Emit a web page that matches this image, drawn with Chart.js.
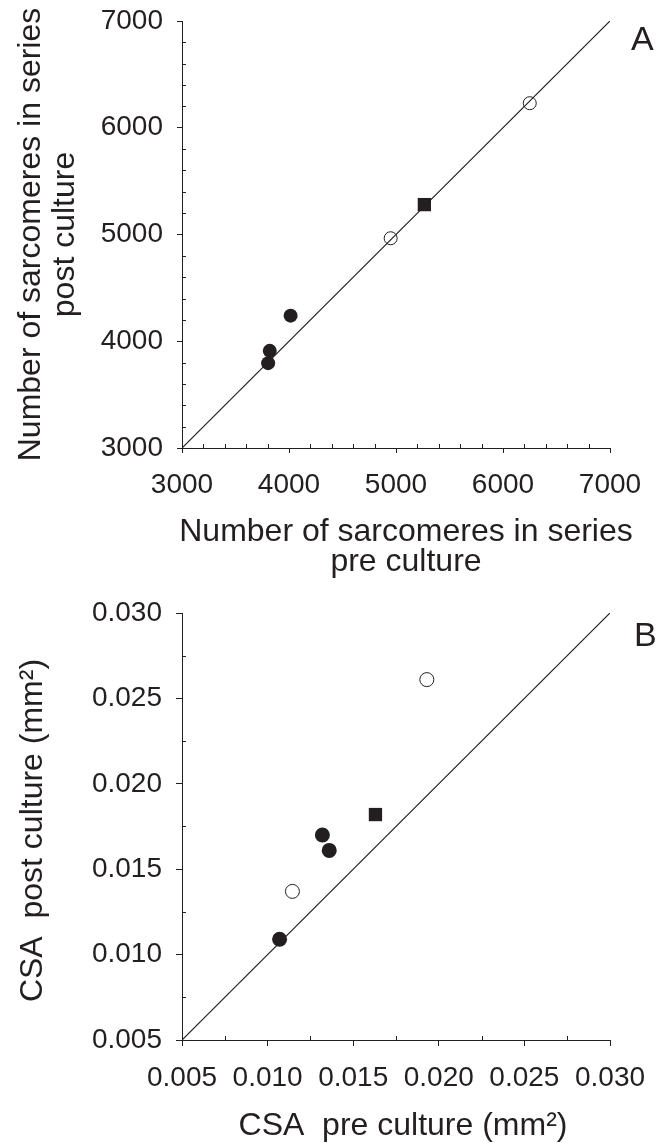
<!DOCTYPE html>
<html><head><meta charset="utf-8">
<script src="https://cdn.jsdelivr.net/npm/chart.js@4"></script>
<style>
html,body{margin:0;padding:0;background:#fff;}
#wrap{position:relative;width:659px;height:1143px;}
canvas{display:block;position:absolute;left:0;}
#a{top:0;}
#b{top:571px;}
</style></head>
<body>
<div id="wrap">
<canvas id="a" width="659" height="592"></canvas>
<canvas id="b" width="659" height="572"></canvas>
</div>
<script>
const INK = '#231f20';
const FONT = "'Liberation Sans', Arial, Helvetica, sans-serif";

// ---- Panel A: sarcomeres in series ----
const ticksA = [3000, 4000, 5000, 6000, 7000];
const minorStepA = 200;
const closedA_pre  = [3805, 3820, 4015];
const closedA_post = [3795, 3910, 4240];
const openA_pre    = [4950, 6250];
const openA_post   = [4965, 6230];
const squareA_pre  = [5265];
const squareA_post = [5280];
const identityA    = [3000, 7000];
const xTitleA = ['Number of sarcomeres in series', 'pre culture'];
const yTitleA = ['Number of sarcomeres in series', 'post culture'];

// ---- Panel B: CSA ----
const ticksB = [0.005, 0.010, 0.015, 0.020, 0.025, 0.030];
const minorStepB = 0.0025;
const closedB_pre  = [0.0107, 0.0132, 0.0136];
const closedB_post = [0.0109, 0.0170, 0.0161];
const openB_pre    = [0.01145, 0.0193];
const openB_post   = [0.0137, 0.0261];
const squareB_pre  = [0.0163];
const squareB_post = [0.0182];
const identityB    = [0.005, 0.030];
const xTitleB = ['CSA  pre culture (mm²)'];
const yTitleB = ['CSA  post culture (mm²)'];

function zip(xs, ys) { return xs.map((x, i) => ({x: x, y: ys[i]})); }

function minorPlugin(step, len) {
  return {
    id: 'minorTicks',
    afterDraw(chart) {
      const ctx = chart.ctx, ca = chart.chartArea;
      ctx.save();
      ctx.strokeStyle = INK; ctx.lineWidth = 1;
      ctx.beginPath();
      ['x', 'y'].forEach(k => {
        const s = chart.scales[k];
        const n = Math.round((s.max - s.min) / step);
        const majorEvery = Math.round((s.ticks[1].value - s.ticks[0].value) / step);
        for (let i = 1; i < n; i++) {
          if (i % majorEvery === 0) continue;
          const v = s.min + i * step;
          const p = Math.round(s.getPixelForValue(v)) + 0.5;
          if (k === 'x') { ctx.moveTo(p, ca.bottom); ctx.lineTo(p, ca.bottom - len); }
          else { ctx.moveTo(ca.left, p); ctx.lineTo(ca.left + len, p); }
        }
      });
      ctx.stroke();
      ctx.restore();
    }
  };
}

function textPlugin(c) {
  return {
    id: 'panelText',
    afterDraw(chart) {
      const ctx = chart.ctx, ca = chart.chartArea;
      ctx.save();
      ctx.fillStyle = INK;
      // panel letter
      ctx.font = '34px ' + FONT;
      ctx.textBaseline = 'alphabetic';
      ctx.textAlign = 'left';
      ctx.fillText(c.letter, c.lx, c.ly);
      // axis titles
      ctx.font = '32px ' + FONT;
      ctx.textAlign = 'center';
      const cx = (ca.left + ca.right) / 2 + c.xTitleShift;
      c.xTitle.forEach((t, i) => ctx.fillText(t, cx, c.xTitleBase[i]));
      const cy = (ca.top + ca.bottom) / 2 + c.yTitleShift;
      ctx.translate(0, cy);
      ctx.rotate(-Math.PI / 2);
      c.yTitle.forEach((t, i) => ctx.fillText(t, 0, c.yTitleBase[i]));
      ctx.restore();
    }
  };
}

function makeChart(id, c) {
  const axisCommon = (ticks, fmt) => ({
    type: 'linear',
    min: ticks[0], max: ticks[ticks.length - 1],
    afterBuildTicks: s => { s.ticks = ticks.map(v => ({value: v})); },
    ticks: { font: {size: 28, family: FONT}, color: INK, callback: fmt, autoSkip: false, maxRotation: 0 },
    grid: { drawOnChartArea: false, drawTicks: true, tickLength: c.tickLen, color: INK, lineWidth: 1 },
    border: { color: INK, width: 1 },
    title: { display: false }
  });
  const xAxis = axisCommon(c.ticks, c.fmt);
  xAxis.ticks.padding = 15;
  xAxis.afterFit = s => { s.height = c.xh; s.paddingLeft = 0; s.paddingRight = 0; };
  const yAxis = axisCommon(c.ticks, c.fmt);
  yAxis.ticks.padding = 14;
  yAxis.afterFit = s => { s.width = 182; s.paddingTop = 0; s.paddingBottom = 0; };

  return new Chart(document.getElementById(id), {
    type: 'scatter',
    data: { datasets: [
      { data: zip(c.closedX, c.closedY), pointStyle: 'circle', pointRadius: c.r, backgroundColor: INK, borderColor: INK, borderWidth: 0 },
      { data: zip(c.openX, c.openY), pointStyle: 'circle', pointRadius: c.r - 0.5, backgroundColor: 'rgba(0,0,0,0)', borderColor: INK, borderWidth: 1 },
      { data: zip(c.sqX, c.sqY), pointStyle: 'rect', pointRadius: 9.4, backgroundColor: INK, borderColor: INK, borderWidth: 0 },
      { data: zip(c.identity, c.identity), showLine: true, pointRadius: 0, borderColor: INK, borderWidth: 1.2, fill: false }
    ]},
    options: {
      responsive: false, animation: false, devicePixelRatio: 1,
      layout: { padding: { top: c.top, right: 49, left: 0, bottom: 0 } },
      plugins: { legend: {display: false}, tooltip: {enabled: false} },
      scales: { x: xAxis, y: yAxis }
    },
    plugins: [minorPlugin(c.minor, 4), textPlugin(c)]
  });
}

makeChart('a', {
  ticks: ticksA, fmt: v => String(v), minor: minorStepA, tickLen: 5,
  closedX: closedA_pre, closedY: closedA_post,
  openX: openA_pre, openY: openA_post,
  sqX: squareA_pre, sqY: squareA_post,
  identity: identityA, r: 7,
  top: 21, xh: 144,
  xTitle: xTitleA, xTitleBase: [541, 571], xTitleShift: 10,
  yTitle: yTitleA, yTitleBase: [40, 74], yTitleShift: 0,
  letter: 'A', lx: 631, ly: 50
});

makeChart('b', {
  ticks: ticksB, fmt: v => v.toFixed(3), minor: minorStepB, tickLen: 6,
  closedX: closedB_pre, closedY: closedB_post,
  openX: openB_pre, openY: openB_post,
  sqX: squareB_pre, sqY: squareB_post,
  identity: identityB, r: 7.5,
  top: 42, xh: 103,
  xTitle: xTitleB, xTitleBase: [564], xTitleShift: 7,
  yTitle: yTitleB, yTitleBase: [42], yTitleShift: 4,
  letter: 'B', lx: 634, ly: 75
});
</script>
</body></html>
